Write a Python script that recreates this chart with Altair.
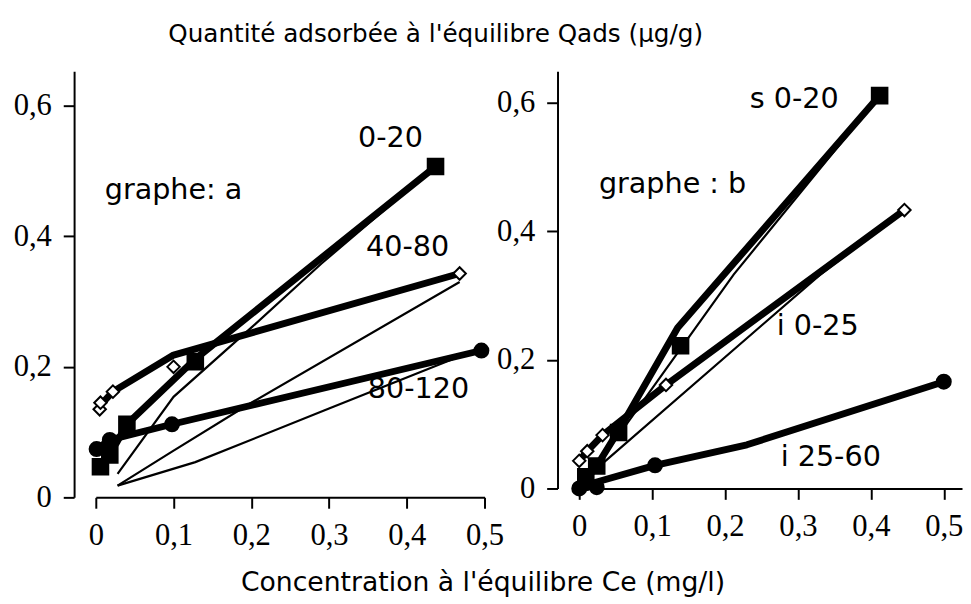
import altair as alt
import pandas as pd

# ---------------- graphe a ----------------
a_020_x = [0.006, 0.018, 0.040, 0.128, 0.437]
a_020_y = [0.047, 0.065, 0.112, 0.208, 0.507]
a_4080_x = [0.005, 0.006, 0.022, 0.100, 0.468]
a_4080_y = [0.135, 0.145, 0.162, 0.200, 0.343]
a_80120_x = [0.001, 0.018, 0.098, 0.496]
a_80120_y = [0.074, 0.088, 0.112, 0.225]

a_thick_020_x = [0.006, 0.018, 0.040, 0.128, 0.437]
a_thick_020_y = [0.047, 0.065, 0.112, 0.212, 0.507]
a_thick_4080_x = [0.005, 0.022, 0.100, 0.468]
a_thick_4080_y = [0.140, 0.162, 0.218, 0.343]
a_thick_80120_x = [0.001, 0.018, 0.098, 0.496]
a_thick_80120_y = [0.074, 0.088, 0.112, 0.225]

a_fit_020_x = [0.028, 0.100, 0.200, 0.290, 0.437]
a_fit_020_y = [0.036, 0.154, 0.260, 0.358, 0.507]
a_fit_4080_x = [0.028, 0.098, 0.200, 0.468]
a_fit_4080_y = [0.018, 0.070, 0.145, 0.330]
a_fit_80120_x = [0.028, 0.128, 0.300, 0.487]
a_fit_80120_y = [0.018, 0.054, 0.136, 0.225]

a_labels = ["0-20", "graphe: a", "40-80", "80-120"]
a_label_x = [0.379, 0.100, 0.401, 0.415]
a_label_y = [0.550, 0.470, 0.384, 0.166]

# ---------------- graphe b ----------------
b_s020_x = [0.009, 0.024, 0.054, 0.139, 0.412]
b_s020_y = [0.018, 0.035, 0.087, 0.222, 0.611]
b_i025_x = [0.000, 0.011, 0.032, 0.119, 0.446]
b_i025_y = [0.043, 0.058, 0.083, 0.161, 0.433]
b_i2560_x = [0.000, 0.009, 0.024, 0.104, 0.500]
b_i2560_y = [0.000, 0.008, 0.002, 0.036, 0.166]

b_thick_s020_x = [0.000, 0.024, 0.054, 0.135, 0.412]
b_thick_s020_y = [0.000, 0.035, 0.090, 0.250, 0.611]
b_thick_i025_x = [0.000, 0.011, 0.032, 0.119, 0.446]
b_thick_i025_y = [0.043, 0.058, 0.083, 0.161, 0.433]
b_thick_i2560_x = [0.000, 0.024, 0.104, 0.230, 0.500]
b_thick_i2560_y = [0.000, 0.010, 0.036, 0.068, 0.166]

b_fit_s020_x = [0.024, 0.212, 0.412]
b_fit_s020_y = [0.035, 0.333, 0.611]
b_fit_i025_x = [0.027, 0.331, 0.446]
b_fit_i025_y = [0.034, 0.333, 0.433]

b_labels = ["s 0-20", "graphe : b", "i 0-25", "i 25-60"]
b_label_x = [0.295, 0.128, 0.327, 0.345]
b_label_y = [0.605, 0.474, 0.252, 0.048]

x_ticks = [0, 0.1, 0.2, 0.3, 0.4, 0.5]
y_ticks = [0, 0.2, 0.4, 0.6]

TITLE_TOP = "Quantité adsorbée à l'équilibre Qads (µg/g)"
TITLE_BOTTOM = "Concentration à l'équilibre Ce (mg/l)"

SANS = "DejaVu Sans"
SERIF = "Liberation Serif"

STYLE = {
    "square": dict(fill="black", size=250),
    "circle": dict(fill="black", size=200),
    "diamond": dict(fill="white", size=160),
}


def markers(series):
    rows = []
    for xs, ys, shape in series:
        for x, y in zip(xs, ys):
            rows.append(dict(x=x, y=y, shape=shape, fill=STYLE[shape]["fill"],
                             size=STYLE[shape]["size"]))
    return pd.DataFrame(rows)


def lines(series):
    rows = []
    for name, xs, ys in series:
        for i, (x, y) in enumerate(zip(xs, ys)):
            rows.append(dict(series=name, order=i, x=x, y=y))
    return pd.DataFrame(rows)


lab_expr = "datum.value == 0 ? '0' : replace(format(datum.value, '.1f'), '.', ',')"


def panel(mk, thick, thin, labs, xdom, ydom, w, h, first):
    xaxis_kw = dict(values=x_ticks, labelExpr=lab_expr, labelFont=SERIF, labelFontSize=31,
                    labelColor="black", labelFlush=False, labelOverlap=False, labelBound=False,
                    tickSize=11, tickWidth=2, tickColor="black", domainColor="black",
                    domainWidth=2, labelPadding=13, grid=False)
    yaxis_kw = dict(values=y_ticks, labelExpr=lab_expr, labelFont=SERIF, labelFontSize=31,
                    labelColor="black", labelOverlap=False, labelBound=False,
                    tickSize=11, tickWidth=2, tickColor="black", domainColor="black",
                    domainWidth=2, labelPadding=12, offset=22, grid=False)
    if first:
        xaxis_kw.update(title=TITLE_BOTTOM, titleFont=SANS, titleFontSize=27,
                        titleFontWeight="normal", titleColor="black", titleX=392,
                        titleY=86, titleBaseline="middle", titleAlign="center")
        yaxis_kw.update(title=TITLE_TOP, titleFont=SANS, titleFontSize=25,
                        titleFontWeight="normal", titleColor="black", titleAngle=0,
                        titleX=366, titleY=-38, titleBaseline="middle", titleAlign="center")
    else:
        xaxis_kw.update(title=None)
        yaxis_kw.update(title=None)
    X = alt.X("x:Q", scale=alt.Scale(domain=xdom, nice=False, zero=False),
              axis=alt.Axis(**xaxis_kw))
    Y = alt.Y("y:Q", scale=alt.Scale(domain=ydom, nice=False, zero=False),
              axis=alt.Axis(**yaxis_kw))

    thin_layer = alt.Chart(thin).mark_line(color="black", strokeWidth=2.2).encode(
        x=X, y=Y, detail="series:N", order="order:Q")
    thick_layer = alt.Chart(thick).mark_line(color="black", strokeWidth=7,
                                             strokeJoin="round", strokeCap="round").encode(
        x=X, y=Y, detail="series:N", order="order:Q")
    pts = alt.Chart(mk).mark_point(filled=True, stroke="black", strokeWidth=2,
                                   opacity=1).encode(
        x=X, y=Y,
        shape=alt.Shape("shape:N", scale=None),
        fill=alt.Fill("fill:N", scale=None),
        size=alt.Size("size:Q", scale=None),
    )
    txt = alt.Chart(labs).mark_text(font=SANS, fontSize=29, color="black",
                                    align="center", baseline="middle").encode(
        x=X, y=Y, text="label:N")
    return alt.layer(thin_layer, thick_layer, pts, txt).properties(width=w, height=h)


a_mk = markers([(a_020_x, a_020_y, "square"), (a_4080_x, a_4080_y, "diamond"),
                (a_80120_x, a_80120_y, "circle")])
a_thick = lines([("020", a_thick_020_x, a_thick_020_y), ("4080", a_thick_4080_x, a_thick_4080_y),
                 ("80120", a_thick_80120_x, a_thick_80120_y)])
a_thin = lines([("020", a_fit_020_x, a_fit_020_y), ("4080", a_fit_4080_x, a_fit_4080_y),
                ("80120", a_fit_80120_x, a_fit_80120_y)])
a_lab = pd.DataFrame(dict(label=a_labels, x=a_label_x, y=a_label_y))

b_mk = markers([(b_s020_x, b_s020_y, "square"), (b_i025_x, b_i025_y, "diamond"),
                (b_i2560_x, b_i2560_y, "circle")])
b_thick = lines([("s020", b_thick_s020_x, b_thick_s020_y), ("i025", b_thick_i025_x, b_thick_i025_y),
                 ("i2560", b_thick_i2560_x, b_thick_i2560_y)])
b_thin = lines([("s020", b_fit_s020_x, b_fit_s020_y), ("i025", b_fit_i025_x, b_fit_i025_y)])
b_lab = pd.DataFrame(dict(label=b_labels, x=b_label_x, y=b_label_y))

left = panel(a_mk, a_thick, a_thin, a_lab, [0, 0.5], [0, 0.653], 394, 432, True)
right = panel(b_mk, b_thick, b_thin, b_lab, [0, 0.525], [0, 0.649], 388, 423, False)

chart = alt.hconcat(left, right, spacing=96, bounds="flush").properties(
    padding={"left": 5, "top": 10, "right": 0, "bottom": 0},
    background="white",
).configure_view(strokeWidth=0, stroke="transparent")

chart.save("out.html", embed_options={"renderer": "svg", "actions": False})
